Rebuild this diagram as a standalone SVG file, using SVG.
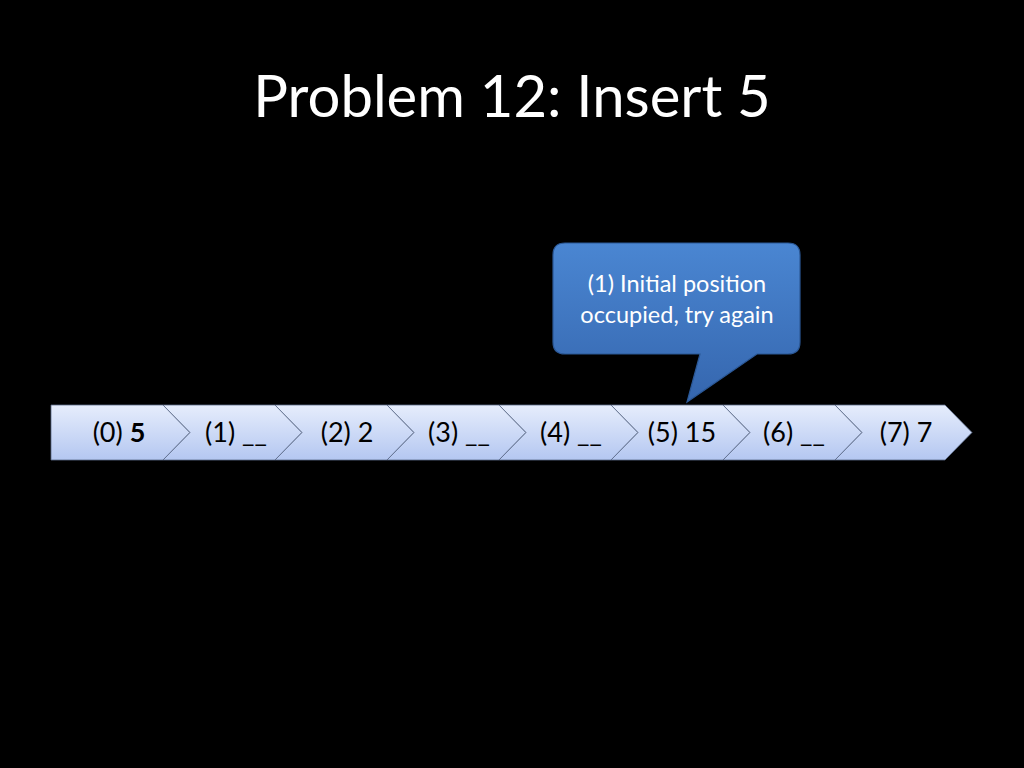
<svg xmlns="http://www.w3.org/2000/svg" width="1024" height="768" viewBox="0 0 1024 768">
<defs>
<linearGradient id="chev" x1="0" y1="0" x2="0" y2="1">
<stop offset="0" stop-color="#e6edfc"/>
<stop offset="1" stop-color="#b4c7f1"/>
</linearGradient>
<linearGradient id="call" x1="0" y1="0" x2="0" y2="1">
<stop offset="0" stop-color="#4a86d2"/>
<stop offset="1" stop-color="#3566ae"/>
</linearGradient>
<style>
.c{fill:url(#chev);stroke:#5a6a88;stroke-width:0.8}
.t{font-family:Lato,"Open Sans","Liberation Sans",sans-serif;font-size:27px;fill:#000;text-anchor:middle}
</style>
</defs>
<rect width="1024" height="768" fill="#000"/>
<g id="title"><text x="512" y="117" font-family="Lato,'Open Sans','Liberation Sans',sans-serif" font-size="58" fill="#fff" text-anchor="middle">Problem 12: Insert 5</text></g>
<g id="seg0"><path class="c" d="M51,405 H163 L190,432.5 L163,460 H51 Z"/><text class="t" x="119" y="442">(0) <tspan font-weight="bold">5</tspan></text></g>
<g id="seg1"><path class="c" d="M163,405 H275 L302,432.5 L275,460 H163 L190,432.5 Z"/><text class="t" x="236" y="442">(1) __</text></g>
<g id="seg2"><path class="c" d="M275,405 H387 L414,432.5 L387,460 H275 L302,432.5 Z"/><text class="t" x="347" y="442">(2) 2</text></g>
<g id="seg3"><path class="c" d="M387,405 H499 L526,432.5 L499,460 H387 L414,432.5 Z"/><text class="t" x="459" y="442">(3) __</text></g>
<g id="seg4"><path class="c" d="M499,405 H611 L638,432.5 L611,460 H499 L526,432.5 Z"/><text class="t" x="571" y="442">(4) __</text></g>
<g id="seg5"><path class="c" d="M611,405 H723 L750,432.5 L723,460 H611 L638,432.5 Z"/><text class="t" x="682" y="442">(5) 15</text></g>
<g id="seg6"><path class="c" d="M723,405 H835 L862,432.5 L835,460 H723 L750,432.5 Z"/><text class="t" x="794" y="442">(6) __</text></g>
<g id="seg7"><path class="c" d="M835,405 H945 L972,432.5 L945,460 H835 L862,432.5 Z"/><text class="t" x="906" y="442">(7) 7</text></g>
<g id="callout">
<path d="M565,243 H788 Q800,243 800,255 V342 Q800,354 788,354 H757 L687,402 L700,354 H565 Q553,354 553,342 V255 Q553,243 565,243 Z" fill="url(#call)" stroke="#2b5896" stroke-width="1.2"/>
<text font-family="Lato,'Open Sans','Liberation Sans',sans-serif" font-size="23.5" fill="#fff" text-anchor="middle"><tspan x="677" y="292">(1) Initial position</tspan><tspan x="677" y="323">occupied, try again</tspan></text>
</g>
<g id="connectors"/>
</svg>
